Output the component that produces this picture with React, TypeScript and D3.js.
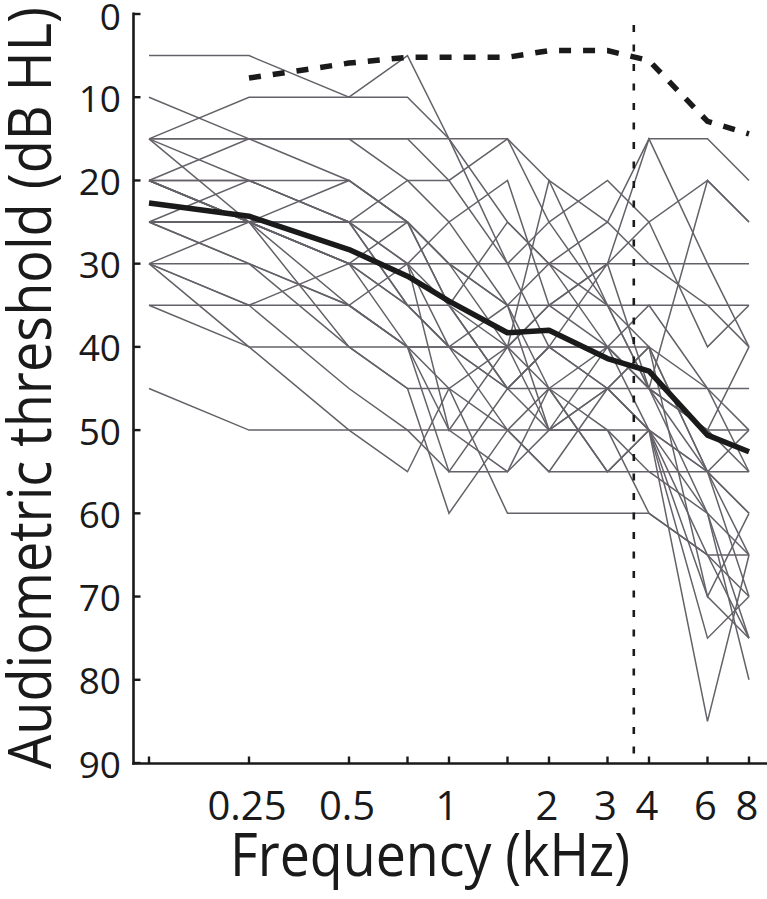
import React from "react";
import * as d3 from "d3";

const freqs = [0.125, 0.25, 0.5, 0.75, 1, 1.5, 2, 3, 4, 6, 8];
const tickLabels = ["", "0.25", "0.5", "", "1", "", "2", "3", "4", "6", "8"];
const yTicks = [0, 10, 20, 30, 40, 50, 60, 70, 80, 90];

const meanThreshold = [22.7, 24.3, 28.3, 31.5, 34.5, 38.3, 38.0, 41.4, 42.9, 50.6, 52.6];

const normalFreqs = [0.25, 0.5, 0.75, 1, 1.5, 2, 3, 4, 6, 8];
const normalThreshold = [7.7, 5.9, 5.2, 5.2, 5.2, 4.4, 4.4, 5.6, 12.9, 14.4];

const cutoffFreq = 3.6;

const subjects: number[][] = [
  [5, 5, 10, 5, 15, 15, 20, 25, 15, 15, 20],
  [10, 15, 15, 15, 20, 15, 25, 20, 25, 20, 25],
  [15, 10, 10, 10, 15, 25, 30, 35, 40, 55, 60],
  [15, 15, 15, 20, 25, 20, 35, 30, 15, 30, 40],
  [15, 20, 25, 20, 20, 30, 40, 45, 50, 60, 65],
  [15, 15, 20, 25, 35, 45, 40, 45, 40, 70, 75],
  [20, 15, 15, 15, 15, 30, 25, 35, 45, 55, 55],
  [20, 20, 20, 25, 30, 35, 45, 40, 50, 65, 70],
  [20, 25, 30, 30, 40, 40, 45, 55, 50, 75, 70],
  [20, 20, 25, 30, 25, 35, 30, 40, 45, 50, 55],
  [20, 25, 25, 35, 40, 50, 55, 45, 50, 85, 65],
  [25, 20, 25, 25, 30, 35, 35, 35, 35, 35, 40],
  [25, 25, 30, 40, 45, 40, 50, 50, 55, 60, 80],
  [25, 30, 35, 40, 50, 55, 50, 45, 40, 45, 50],
  [25, 25, 20, 25, 35, 25, 30, 30, 30, 30, 30],
  [25, 25, 40, 45, 60, 50, 45, 55, 55, 55, 50],
  [25, 25, 30, 35, 35, 45, 40, 40, 45, 45, 45],
  [30, 25, 30, 30, 35, 40, 35, 30, 25, 40, 35],
  [30, 35, 30, 35, 40, 45, 45, 45, 45, 50, 50],
  [30, 40, 40, 40, 40, 40, 40, 40, 40, 55, 65],
  [35, 40, 50, 55, 45, 60, 60, 60, 60, 65, 65],
  [45, 50, 50, 50, 50, 50, 50, 50, 50, 55, 60],
  [20, 25, 35, 30, 50, 40, 20, 35, 45, 60, 75],
  [15, 25, 25, 35, 40, 35, 50, 45, 50, 70, 60],
  [30, 30, 35, 40, 55, 45, 40, 30, 45, 50, 40],
  [20, 25, 30, 25, 30, 40, 35, 40, 45, 20, 25],
  [25, 30, 40, 45, 45, 50, 55, 55, 50, 55, 70],
  [35, 35, 35, 40, 40, 45, 50, 40, 35, 45, 55],
  [30, 35, 45, 50, 55, 55, 45, 50, 60, 65, 75],
  [20, 25, 25, 30, 30, 30, 30, 25, 30, 35, 35],
];

export default function App() {
  const W = 767;
  const H = 899;
  const x = d3.scaleLog().base(2).domain([0.125, 8]).range([149, 749]);
  const y = d3.scaleLinear().domain([0, 90]).range([14, 763]);
  const axisX = 133.5;
  const axisY = 763.5;
  const font = "'Open Sans', 'DejaVu Sans', sans-serif";
  const ink = "#1a1a1a";

  const line = d3
    .line<number>()
    .x((_, i) => x(freqs[i]))
    .y((d) => y(d));
  const normalLine = d3
    .line<number>()
    .x((_, i) => x(normalFreqs[i]))
    .y((d) => y(d));
  const meanLine = d3
    .line<number>()
    .x((_, i) => x(freqs[i]))
    .y((d) => y(d));

  return (
    <svg
      width={W}
      height={H}
      viewBox={`0 0 ${W} ${H}`}
      style={{ position: "absolute", left: 0, top: 0, background: "#fff" }}
    >
      <rect x={0} y={0} width={W} height={H} fill="#fff" />
      <g fill="none" stroke="#646168" strokeWidth={1.5} strokeLinejoin="miter">
        {subjects.map((s, i) => (
          <path key={i} d={line(s) || ""} />
        ))}
      </g>
      <line
        x1={x(cutoffFreq)}
        x2={x(cutoffFreq)}
        y1={25}
        y2={axisY}
        stroke={ink}
        strokeWidth={2.6}
        strokeDasharray="7 12.5"
      />
      <path
        d={normalLine(normalThreshold) || ""}
        fill="none"
        stroke={ink}
        strokeWidth={5.5}
        strokeDasharray="12 12"
      />
      <path
        d={meanLine(meanThreshold) || ""}
        fill="none"
        stroke={ink}
        strokeWidth={5.5}
        strokeLinejoin="round"
      />
      <line x1={axisX} x2={axisX} y1={12.5} y2={axisY + 1.2} stroke={ink} strokeWidth={2.6} />
      <line x1={axisX - 1.2} x2={767} y1={axisY} y2={axisY} stroke={ink} strokeWidth={2.6} />
      {yTicks.map((t) => (
        <g key={t}>
          <line x1={axisX} x2={axisX + 7} y1={y(t)} y2={y(t)} stroke={ink} strokeWidth={2.4} />
          <text
            x={121}
            y={y(t) + (t === 0 ? 1 : 0)}
            textAnchor="end"
            dominantBaseline="central"
            fontFamily={font}
            fontSize={37}
            fill={ink}
          >
            {t}
          </text>
        </g>
      ))}
      {freqs.map((f, i) => (
        <g key={f}>
          <line x1={x(f)} x2={x(f)} y1={axisY} y2={axisY - 7} stroke={ink} strokeWidth={2.4} />
          {tickLabels[i] && (
            <text
              x={x(f) - 2}
              y={820}
              textAnchor="middle"
              fontFamily={font}
              fontSize={40}
              fill={ink}
            >
              {tickLabels[i]}
            </text>
          )}
        </g>
      ))}
      <text
        x={230}
        y={876}
        fontFamily={font}
        fontSize={60}
        fill={ink}
        textLength={400}
        lengthAdjust="spacingAndGlyphs"
      >
        Frequency (kHz)
      </text>
      <text
        transform={`translate(51, ${388}) rotate(-90)`}
        x={-381}
        y={0}
        fontFamily={font}
        fontSize={61}
        fill={ink}
        textLength={762}
        lengthAdjust="spacingAndGlyphs"
      >
        Audiometric threshold (dB HL)
      </text>
    </svg>
  );
}
